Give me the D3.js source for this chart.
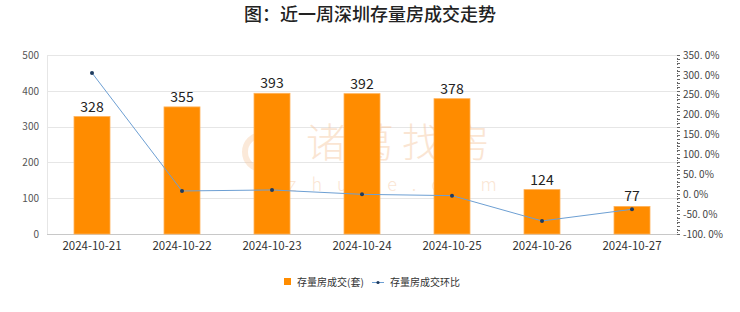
<!DOCTYPE html>
<html>
<head>
<meta charset="utf-8">
<script src="https://cdn.jsdelivr.net/npm/d3@7"></script>
<style>
  body { margin: 0; background: #fff; }
  text { font-family: "Noto Sans CJK SC", "DejaVu Sans", sans-serif; }
</style>
</head>
<body>
<div id="vis"></div>
<script>
const dates = ["2024-10-21", "2024-10-22", "2024-10-23", "2024-10-24", "2024-10-25", "2024-10-26", "2024-10-27"];
const volume = [328, 355, 393, 392, 378, 124, 77];
const momPct = [305, 8.2, 10.7, -0.3, -3.6, -67.2, -37.9];
const leftTicks = [0, 100, 200, 300, 400, 500];
const rightTicks = [-100, -50, 0, 50, 100, 150, 200, 250, 300, 350];

const width = 740;
const height = 312;
const margin = {left: 47, right: 63, top: 55, bottom: 78};

const svg = d3.select("#vis")
  .append("svg")
  .attr("width", width)
  .attr("height", height);

const x = d3.scaleBand()
  .domain(dates)
  .range([margin.left, width - margin.right])
  .paddingInner(0.6)
  .paddingOuter(0.3);

const yLeft = d3.scaleLinear()
  .domain([0, 500])
  .range([height - margin.bottom, margin.top]);

const yRight = d3.scaleLinear()
  .domain([-100, 350])
  .range([height - margin.bottom, margin.top]);

// title
svg.append("text")
  .attr("x", width / 2)
  .attr("y", 21)
  .attr("text-anchor", "middle")
  .attr("font-size", 18)
  .attr("font-weight", 500)
  .attr("fill", "#222")
  .text("图：近一周深圳存量房成交走势");

// grid
svg.append("g")
  .selectAll("line")
  .data(leftTicks)
  .join("line")
  .attr("x1", margin.left)
  .attr("x2", width - margin.right)
  .attr("y1", d => Math.round(yLeft(d)) + 0.5)
  .attr("y2", d => Math.round(yLeft(d)) + 0.5)
  .attr("stroke", d => d === 0 ? "#c8c8c8" : "#e6e6e6");

svg.append("line")
  .attr("x1", margin.left + 0.5)
  .attr("x2", margin.left + 0.5)
  .attr("y1", margin.top)
  .attr("y2", height - margin.bottom)
  .attr("stroke", "#e6e6e6");

// watermark
const wm = svg.append("g")
  .attr("opacity", 0.45)
  .attr("fill", "#f6c7a0")
  .attr("text-anchor", "middle")
  .attr("font-weight", 300);

wm.append("text")
  .attr("x", 402)
  .attr("y", 157)
  .attr("font-size", 40)
  .attr("letter-spacing", 8)
  .text("诸葛找房");

wm.append("text")
  .attr("x", 400)
  .attr("y", 191)
  .attr("font-size", 18)
  .attr("letter-spacing", 15)
  .text("zhuge.com");

svg.append("circle")
  .attr("cx", 262)
  .attr("cy", 152)
  .attr("r", 17)
  .attr("fill", "none")
  .attr("stroke", "#f6c7a0")
  .attr("stroke-width", 6)
  .attr("opacity", 0.4);

// left axis
const leftAxis = d3.axisLeft(yLeft)
  .tickValues(leftTicks)
  .tickSize(0)
  .tickPadding(8);

svg.append("g")
  .attr("transform", "translate(" + margin.left + ",0)")
  .call(leftAxis)
  .call(g => g.select(".domain").remove())
  .call(g => g.selectAll("text").attr("font-size", 10).attr("fill", "#555")
    .attr("font-family", "'DejaVu Sans', sans-serif"));

// right axis
const rightX = width - margin.right;
const minor = d3.range(-100, 351, 10);

svg.append("line")
  .attr("x1", rightX + 0.5)
  .attr("x2", rightX + 0.5)
  .attr("y1", margin.top)
  .attr("y2", height - margin.bottom)
  .attr("stroke", "#666")
  .attr("stroke-dasharray", "1,2");

svg.append("g")
  .selectAll("line")
  .data(minor)
  .join("line")
  .attr("x1", rightX)
  .attr("x2", rightX + 3)
  .attr("y1", d => Math.round(yRight(d)) + 0.5)
  .attr("y2", d => Math.round(yRight(d)) + 0.5)
  .attr("stroke", "#666");

const rightAxis = d3.axisRight(yRight)
  .tickValues(rightTicks)
  .tickSize(0)
  .tickPadding(6)
  .tickFormat(d => d.toFixed(1).replace(".", ". ") + "%");

svg.append("g")
  .attr("transform", "translate(" + rightX + ",0)")
  .call(rightAxis)
  .call(g => g.select(".domain").remove())
  .call(g => g.selectAll("text").attr("font-size", 10).attr("fill", "#444")
    .attr("font-family", "'Noto Sans CJK SC', sans-serif"));

// x axis labels
svg.append("g")
  .selectAll("text")
  .data(dates)
  .join("text")
  .attr("x", d => x(d) + x.bandwidth() / 2)
  .attr("y", height - margin.bottom + 16)
  .attr("text-anchor", "middle")
  .attr("font-size", 11.5)
  .attr("fill", "#333")
  .text(d => d);

// bars
svg.append("g")
  .selectAll("rect")
  .data(volume)
  .join("rect")
  .attr("x", (d, i) => x(dates[i]))
  .attr("y", d => yLeft(d))
  .attr("width", x.bandwidth())
  .attr("height", d => yLeft(0) - yLeft(d))
  .attr("fill", "#ff8c00")
  .attr("stroke", "#ffb25a")
  .attr("stroke-width", 0.8);

svg.append("g")
  .selectAll("text")
  .data(volume)
  .join("text")
  .attr("x", (d, i) => x(dates[i]) + x.bandwidth() / 2)
  .attr("y", d => yLeft(d) - 5)
  .attr("text-anchor", "middle")
  .attr("font-size", 14)
  .attr("fill", "#222")
  .attr("font-family", "'DejaVu Sans', sans-serif")
  .text(d => d);

// line
const line = d3.line()
  .x((d, i) => x(dates[i]) + x.bandwidth() / 2)
  .y(d => yRight(d));

svg.append("path")
  .attr("d", line(momPct))
  .attr("fill", "none")
  .attr("stroke", "#6d9fd3")
  .attr("stroke-width", 1);

svg.append("g")
  .selectAll("circle")
  .data(momPct)
  .join("circle")
  .attr("cx", (d, i) => x(dates[i]) + x.bandwidth() / 2)
  .attr("cy", d => yRight(d))
  .attr("r", 2)
  .attr("fill", "#1f3b5f");

// legend
const legend = svg.append("g").attr("transform", "translate(0," + 282 + ")");

legend.append("rect")
  .attr("x", 284)
  .attr("y", -4)
  .attr("width", 7)
  .attr("height", 7)
  .attr("fill", "#ff8c00");

legend.append("text")
  .attr("x", 297)
  .attr("y", 4)
  .attr("font-size", 10)
  .attr("fill", "#333")
  .text("存量房成交(套)");

legend.append("line")
  .attr("x1", 372)
  .attr("x2", 384)
  .attr("y1", 0.5)
  .attr("y2", 0.5)
  .attr("stroke", "#6d9fd3");

legend.append("circle")
  .attr("cx", 378)
  .attr("cy", 0.5)
  .attr("r", 1.6)
  .attr("fill", "#1f3b5f");

legend.append("text")
  .attr("x", 390)
  .attr("y", 4)
  .attr("font-size", 10)
  .attr("fill", "#333")
  .text("存量房成交环比");
</script>
</body>
</html>
